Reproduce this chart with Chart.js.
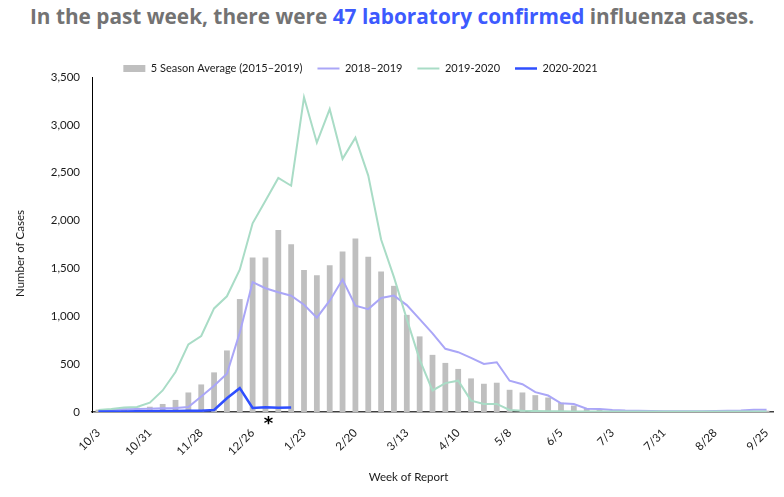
<!DOCTYPE html>
<html>
<head>
<meta charset="utf-8">
<script src="https://cdn.jsdelivr.net/npm/chart.js@4.4.0/dist/chart.umd.min.js"></script>
<style>
  body { margin: 0; background: #fff; }
  .wrap { position: relative; width: 784px; height: 497px; }
  .headline { position: absolute; top: 2px; left: 0; width: 784px; text-align: center;
    font: bold 20.8px "Open Sans", sans-serif; color: #737373; white-space: nowrap; }
  .headline span { color: #3d5afe; }
  canvas { position: absolute; left: 0; top: 0; }
</style>
</head>
<body>
<div class="wrap">
  <div class="headline">In the past week, there were <span>47 laboratory confirmed</span> influenza cases.</div>
  <canvas id="fluChart" width="784" height="497"></canvas>
</div>
<script>
// DATA
var tickLabels = ['10/3', '10/31', '11/28', '12/26', '1/23', '2/20', '3/13', '4/10', '5/8', '6/5', '7/3', '7/31', '8/28', '9/25'];
var weekCount = 53;
var asteriskWeek = 13;

var fiveSeasonAvg = [25, 30, 35, 45, 55, 84, 126, 204, 288, 414,
  643, 1180, 1613, 1613, 1901, 1753, 1483, 1430, 1532, 1676,
  1813, 1623, 1469, 1318, 1015, 790, 597, 513, 450, 351,
  295, 306, 232, 204, 176, 151, 98, 67, 32, 21,
  15, 12, 10, 9, 8, 8, 7, 7, 8, 9,
  10, 12, 14];
var season1819 = [10, 21, 28, 32, 35, 38, 42, 53, 162, 274,
  400, 829, 1356, 1293, 1251, 1215, 1120, 985, 1163, 1384,
  1110, 1075, 1191, 1216, 1117, 970, 822, 660, 625, 566,
  502, 520, 327, 290, 207, 172, 91, 84, 35, 32,
  21, 15, 12, 10, 8, 8, 8, 9, 10, 12,
  16, 24, 24];
var season1920 = [21, 32, 46, 53, 98, 225, 418, 706, 794, 1082,
  1209, 1486, 1971, 2206, 2445, 2364, 3288, 2814, 3165, 2645,
  2866, 2470, 1802, 1409, 970, 548, 225, 302, 327, 119,
  84, 84, 21, 12, 10, 8, 7, 6, 6, 5,
  5, 5, 5, 5, 5, 5, 5, 5, 5, 5,
  5, 5, 5];
var season2021 = [4, 5, 6, 7, 8, 10, 11, 12, 14, 21,
  144, 249, 42, 50, 44, 47];

// week labels, only every 4th one shown
var weeks = [];
for (var i = 0; i < weekCount; i++) {
  weeks.push(i % 4 === 0 ? tickLabels[i / 4] : '');
}

var fontFamily = 'Lato, sans-serif';

// EXTRAS: asterisk, axis titles, legend position
var extras = {
  id: 'extras',
  afterLayout: function(chart) {
    var lg = chart.legend;
    var dy = 48 - lg.top;
    lg.left -= 26;
    lg.right -= 26;
    lg.top += dy;
    lg.bottom += dy;
  },
  afterDraw: function(chart) {
    var ctx = chart.ctx;
    var area = chart.chartArea;
    var xScale = chart.scales.x;
    ctx.save();
    ctx.fillStyle = '#000';
    ctx.textAlign = 'center';
    ctx.textBaseline = 'middle';
    ctx.font = 'bold 18px "DejaVu Sans"';
    ctx.fillText('*', xScale.getPixelForValue(asteriskWeek) + 3, area.bottom + 12);

    ctx.fillStyle = '#1a1a1a';
    ctx.font = '11.5px ' + fontFamily;
    ctx.fillText('Week of Report', (area.left + area.right) / 2 - 24, 477);
    ctx.translate(20, (area.top + area.bottom) / 2 + 9);
    ctx.rotate(-Math.PI / 2);
    ctx.fillText('Number of Cases', 0, 0);
    ctx.restore();
  }
};

var ctx = document.getElementById('fluChart').getContext('2d');

var chart = new Chart(ctx, {
  type: 'bar',
  data: {
    labels: weeks,
    datasets: [{
      label: '5 Season Average (2015\u20132019)',
      data: fiveSeasonAvg,
      backgroundColor: '#bfbfbf',
      borderWidth: 0,
      barPercentage: 0.45,
      categoryPercentage: 1.0,
      order: 4
    },
    {
      type: 'line',
      label: '2018\u20132019',
      data: season1819,
      borderColor: '#aaa6f7',
      backgroundColor: '#aaa6f7',
      borderWidth: 2,
      pointRadius: 0,
      tension: 0,
      order: 3
    },
    {
      type: 'line',
      label: '2019-2020',
      data: season1920,
      borderColor: '#a9dcc6',
      backgroundColor: '#a9dcc6',
      borderWidth: 2,
      pointRadius: 0,
      tension: 0,
      order: 2
    },
    {
      type: 'line',
      label: '2020-2021',
      data: season2021,
      borderColor: '#2f4fff',
      backgroundColor: '#2f4fff',
      borderWidth: 2.5,
      pointRadius: 0,
      tension: 0,
      order: 1
    }]
  },
  options: {
    responsive: false,
    animation: false,
    layout: { padding: { left: 0, right: 11, top: 41, bottom: 0 } },
    plugins: {
      tooltip: { enabled: false },
      legend: {
        position: 'top',
        labels: {
          usePointStyle: true,
          pointStyleWidth: 22,
          boxHeight: 7,
          padding: 15,
          color: '#1a1a1a',
          font: { family: fontFamily, size: 11 },
          sort: function(a, b) { return a.datasetIndex - b.datasetIndex; },
          generateLabels: function(chart) {
            var items = Chart.defaults.plugins.legend.labels.generateLabels(chart);
            items.forEach(function(it) {
              it.pointStyle = it.datasetIndex === 0 ? 'rect' : 'line';
            });
            return items;
          }
        }
      }
    },
    scales: {
      x: {
        grid: { display: false, drawTicks: false },
        border: { display: true, color: '#404040', width: 1.5 },
        ticks: {
          autoSkip: false,
          minRotation: 45,
          maxRotation: 45,
          padding: 14,
          color: '#1a1a1a',
          font: { family: fontFamily, size: 11.5 }
        },
        afterFit: function(scale) {
          scale.height = 85;
          scale.paddingRight = 0;
        }
      },
      y: {
        min: 0,
        max: 3500,
        grid: { display: false, drawTicks: false },
        border: { display: true, color: '#000', width: 1 },
        ticks: {
          stepSize: 500,
          padding: 12,
          color: '#1a1a1a',
          font: { family: fontFamily, size: 11.5 },
          callback: function(v) { return v.toLocaleString('en-US'); }
        },
        afterFit: function(scale) { scale.width = 92; }
      }
    }
  },
  plugins: [extras]
});
</script>
</body>
</html>
